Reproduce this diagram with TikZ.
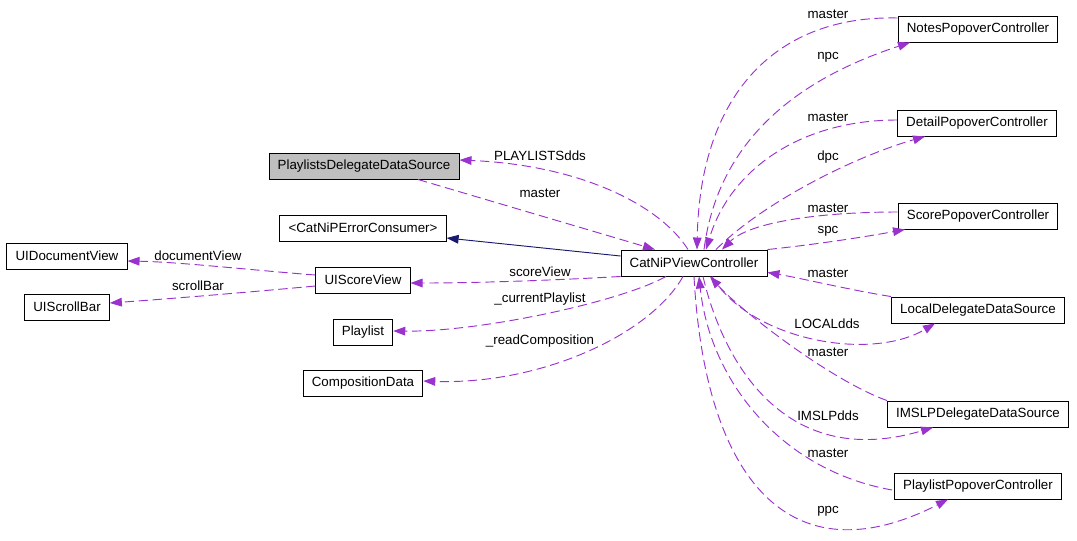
\documentclass[tikz,border=0pt]{standalone}
\usepackage{fontspec}
\setmainfont{Liberation Sans}
\usepackage{tikz}
\usetikzlibrary{arrows.meta,calc,positioning}
\definecolor{relpurple}{HTML}{9A32CD}
\definecolor{inhnavy}{HTML}{191970}
\definecolor{curgray}{HTML}{BFBFBF}

\begin{document}
\begin{tikzpicture}[x=0.75pt, y=-0.75pt,
  cls/.style={draw, line width=0.7pt, inner xsep=6.5pt, inner ysep=0pt, minimum height=19.5pt, font=\fontsize{10}{12}\selectfont},
  lbl/.style={inner sep=1pt, font=\fontsize{10}{12}\selectfont},
  use/.style={relpurple, line width=0.7pt, dash pattern=on 7pt off 3.5pt, -{Triangle[length=9pt,width=6.5pt]}},
  inh/.style={inhnavy, line width=0.7pt, -{Triangle[length=9pt,width=6.5pt]}}]
\useasboundingbox (0,0) rectangle (1077,540);

% classes on the left
\node[cls, fill=curgray] (pdds) at (364,166) {PlaylistsDelegateDataSource};
\node[cls] (cerr) at (363,228) {<CatNiPErrorConsumer>};
\node[cls] (udv) at (67,256) {UIDocumentView};
\node[cls] (usv) at (363,280) {UIScoreView};
\node[cls] (usb) at (67,307) {UIScrollBar};
\node[cls] (pl) at (363,332) {Playlist};
\node[cls] (cd) at (363,383) {CompositionData};
\node[cls] (cnvc) at (694,263) {CatNiPViewController};

% classes on the right
\node[cls] (npc) at (978,29) {NotesPopoverController};
\node[cls] (dpc) at (977,123) {DetailPopoverController};
\node[cls] (spc) at (978,216) {ScorePopoverController};
\node[cls] (ldds) at (978,310) {LocalDelegateDataSource};
\node[cls] (imslp) at (978,414) {IMSLPDelegateDataSource};
\node[cls] (ppc) at (978,486) {PlaylistPopoverController};

% left part
\draw[use] ($(cnvc.north)+(-6,0)$) .. controls (660,205) and (580,165) .. ($(pdds.east)+(0,-6)$);
\draw[use] ($(pdds.south)+(54,0)$) -- ($(cnvc.north)+(-39,0)$);
\draw[inh] ($(cnvc.west)+(0,-7)$) -- ($(cerr.east)+(0,10)$);
\draw[use] (cnvc.south west) .. controls (560,280) and (480,283) .. ($(usv.east)+(0,3)$);
\draw[use] ($(usv.west)+(0,-5)$) .. controls (250,270) and (180,262) .. ($(udv.east)+(0,5)$);
\draw[use] ($(usv.west)+(0,6)$) .. controls (250,292) and (180,298) .. ($(usb.east)+(0,-4)$);
\draw[use] ($(cnvc.south)+(-28,0)$) .. controls (620,302) and (480,332) .. ($(pl.east)+(0,-1)$);
\draw[use] ($(cnvc.south)+(-11,0)$) .. controls (650,335) and (540,385) .. ($(cd.east)+(0,-2)$);

% right part
\draw[use] ($(npc.west)+(0,-11)$) .. controls (780,15) and (700,90) .. ($(cnvc.north)+(3,0)$);
\draw[use] ($(cnvc.north)+(10,0)$) .. controls (720,125) and (820,72) .. ($(npc.south)+(-68,0)$);
\draw[use] ($(dpc.west)+(0,-3)$) .. controls (800,120) and (730,170) .. ($(cnvc.north)+(12,0)$);
\draw[use] ($(cnvc.north)+(22,0)$) .. controls (760,205) and (850,158) .. ($(dpc.south)+(-52,0)$);
\draw[use] ($(spc.west)+(0,-4)$) .. controls (820,212) and (750,222) .. ($(cnvc.north)+(28,0)$);
\draw[use] (cnvc.north east) .. controls (820,244) and (870,236) .. ($(spc.south)+(-73,0)$);
\draw[use] (ldds.north west) .. controls (850,290) and (800,278) .. ($(cnvc.south east)+(0,-4)$);
\draw[use] ($(cnvc.south)+(18,0)$) .. controls (750,340) and (870,362) .. ($(ldds.south)+(-43,0)$);
\draw[use] (imslp.north west) .. controls (830,380) and (740,310) .. ($(cnvc.south)+(16,0)$);
\draw[use] ($(cnvc.south)+(9,0)$) .. controls (725,370) and (790,470) .. ($(imslp.south)+(-45,0)$);
\draw[use] ($(ppc.west)+(-2,4)$) .. controls (780,470) and (710,380) .. ($(cnvc.south)+(5,0)$);
\draw[use] (cnvc.south) .. controls (705,480) and (790,580) .. ($(ppc.south)+(-30,0)$);

% labels
\node[lbl] (lplds) at (540,156) {PLAYLISTSdds};
\node[lbl] (lmpl) at (540,193) {master};
\node[lbl] (ldoc) at (198,256) {documentView};
\node[lbl] (lscb) at (198,286) {scrollBar};
\node[lbl] (lscv) at (540,272) {scoreView};
\node[lbl] (lcpl) at (540,299) {\_currentPlaylist};
\node[lbl] (lrdc) at (540,341) {\_readComposition};
\node[lbl] (lmnp) at (828,14) {master};
\node[lbl] (lnpc) at (828,57) {npc};
\node[lbl] (lmdp) at (828,117) {master};
\node[lbl] (ldpc) at (828,157) {dpc};
\node[lbl] (lmsp) at (828,208) {master};
\node[lbl] (lspc) at (828,231) {spc};
\node[lbl] (lmld) at (828,273) {master};
\node[lbl] (lloc) at (827,324) {LOCALdds};
\node[lbl] (lmim) at (828,352) {master};
\node[lbl] (limd) at (828,416) {IMSLPdds};
\node[lbl] (lmpp) at (828,453) {master};
\node[lbl] (lppc) at (828,511) {ppc};
\end{tikzpicture}
\end{document}
